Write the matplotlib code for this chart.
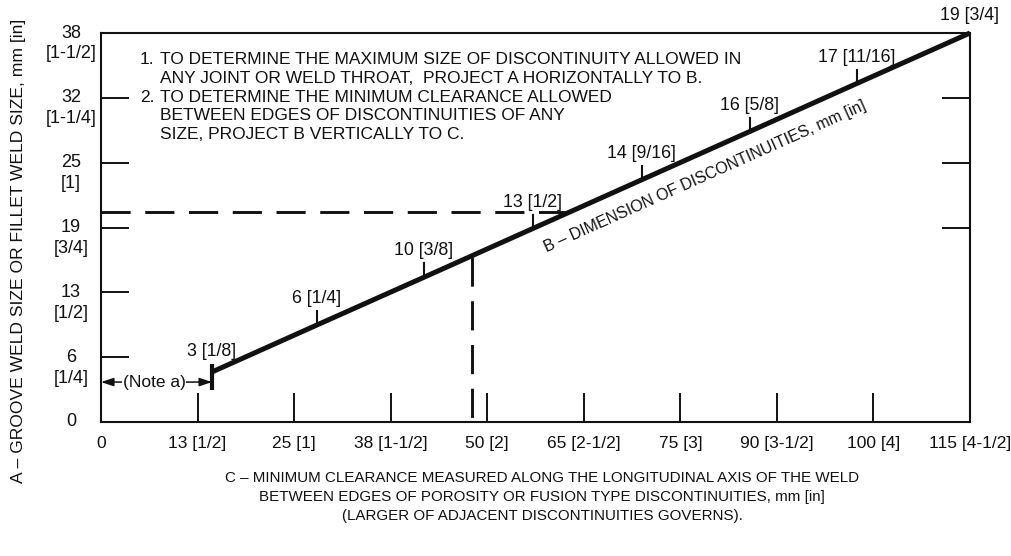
import matplotlib
matplotlib.use("Agg")
import matplotlib.pyplot as plt
import numpy as np

plt.rcParams["font.family"] = ["Liberation Sans", "DejaVu Sans"]
plt.rcParams["font.size"] = 12.5

INK = "#111111"

# C - clearance axis, positions in inches with mm [in] labels
c_pos = [0, 0.5, 1.0, 1.5, 2.0, 2.5, 3.0, 3.5, 4.0, 4.5]
c_labels = ["0", "13 [1/2]", "25 [1]", "38 [1-1/2]", "50 [2]", "65 [2-1/2]",
            "75 [3]", "90 [3-1/2]", "100 [4]", "115 [4-1/2]"]

# A - weld size axis
a_pos = [0, 0.25, 0.5, 0.75, 1.0, 1.25, 1.5]
a_mm = ["0", "6", "13", "19", "25", "32", "38"]
a_in = ["", "[1/4]", "[1/2]", "[3/4]", "[1]", "[1-1/4]", "[1-1/2]"]
a_right_ticks = [0.75, 1.0, 1.25]

# B - discontinuity dimension line, with its graduation marks
b_c = [0.575, 1.118, 1.672, 2.236, 2.800, 3.359, 3.913, 4.5]
b_a = [0.193, 0.374, 0.558, 0.746, 0.934, 1.120, 1.305, 1.5]
b_labels = ["3 [1/8]", "6 [1/4]", "10 [3/8]", "13 [1/2]", "14 [9/16]",
            "16 [5/8]", "17 [11/16]", "19 [3/4]"]

# worked projections
proj_a, proj_a_hit = 0.81, 2.43     # horizontal: A across to B
proj_c, proj_c_hit = 1.92, 0.635    # vertical: B down to C
note_a_level = 0.154

note_lines = [
    ("1.", "TO DETERMINE THE MAXIMUM SIZE OF DISCONTINUITY ALLOWED IN"),
    ("", "ANY JOINT OR WELD THROAT,  PROJECT A HORIZONTALLY TO B."),
    ("2.", "TO DETERMINE THE MINIMUM CLEARANCE ALLOWED"),
    ("", "BETWEEN EDGES OF DISCONTINUITIES OF ANY"),
    ("", "SIZE, PROJECT B VERTICALLY TO C."),
]

W, H = 1011, 556
fig = plt.figure(figsize=(W / 100, H / 100), dpi=100)
ax = fig.add_axes([101 / W, 1 - 422 / H, (970 - 101) / W, (422 - 33) / H])
ax.set_xlim(0, 4.5)
ax.set_ylim(0, 1.5)
for s in ax.spines.values():
    s.set_linewidth(1.5)
    s.set_color(INK)

ax.set_xticks(c_pos)
ax.set_xticklabels(c_labels)
ax.tick_params(axis="x", direction="in", length=21, width=1.4, pad=10,
               color=INK, labelcolor=INK, labelsize=12.5)
ax.set_yticks(a_pos)
ax.set_yticklabels([])
ax.tick_params(axis="y", direction="in", length=20, width=1.4, color=INK)

for p, mm, inch in zip(a_pos, a_mm, a_in):
    ax.annotate(mm, xy=(0, p), xycoords=("axes fraction", "data"),
                xytext=(-30, 0), textcoords="offset pixels",
                ha="center", va="center", color=INK, fontsize=13)
    if inch:
        ax.annotate(inch, xy=(0, p), xycoords=("axes fraction", "data"),
                    xytext=(-30, -21), textcoords="offset pixels",
                    ha="center", va="center", color=INK, fontsize=13)

axr = ax.twinx()
axr.set_ylim(0, 1.5)
axr.set_yticks(a_right_ticks)
axr.tick_params(axis="y", direction="in", length=20, width=1.4,
                color=INK, labelright=False)
for s in axr.spines.values():
    s.set_visible(False)

# projection lines
dash = (0, (10, 5))
ax.plot([0, proj_a_hit], [proj_a, proj_a], color=INK, lw=2.1, ls=dash)
ax.plot([proj_c, proj_c], [proj_c_hit, 0], color=INK, lw=2.1, ls=dash)

# B line
ax.plot(b_c, b_a, color=INK, lw=3.6, solid_capstyle="butt", clip_on=False, zorder=4)
tick_h = 0.054
ax.plot([b_c[0], b_c[0]], [b_a[0] - 0.07, b_a[0] + 0.031], color=INK, lw=3.0,
        solid_capstyle="butt", zorder=4)
for c, a in zip(b_c[1:-1], b_a[1:-1]):
    ax.plot([c, c], [a, a + tick_h], color=INK, lw=1.5, zorder=4)
for i, (c, a, lab) in enumerate(zip(b_c, b_a, b_labels)):
    if i == 0:
        top = a + 0.031
    elif i == len(b_c) - 1:
        top = a + 0.02
    else:
        top = a + tick_h
    ax.annotate(lab, xy=(c, top), xytext=(0, 4), textcoords="offset pixels",
                ha="center", va="bottom", color=INK, fontsize=12.8,
                annotation_clip=False)

# label running along B
p1 = ax.transData.transform((b_c[0], b_a[0]))
p2 = ax.transData.transform((b_c[-1], b_a[-1]))
ang = np.degrees(np.arctan2(p2[1] - p1[1], p2[0] - p1[0]))
mid_c = 3.08
mid_a = np.interp(mid_c, b_c, b_a)
off = 23
ax.annotate("B – DIMENSION OF DISCONTINUITIES, mm [in]", xy=(mid_c, mid_a),
            xytext=(off * np.sin(np.radians(ang)), -off * np.cos(np.radians(ang))),
            textcoords="offset pixels", rotation=ang, rotation_mode="anchor",
            ha="center", va="center", color=INK, fontsize=11.5)

# Note a dimension arrow
ax.annotate("", xy=(0, note_a_level), xytext=(b_c[0], note_a_level),
            arrowprops=dict(arrowstyle="<|-|>,head_length=0.6,head_width=0.2",
                            color=INK, lw=1.1, shrinkA=0, shrinkB=0))
ax.text(0.275, note_a_level, "(Note a)", ha="center", va="center", color=INK,
        bbox=dict(boxstyle="square,pad=0.05", fc="white", ec="none"))

# notes block, one line at a time
y0, step = 60, 18.5
for i, (num, line) in enumerate(note_lines):
    y = 1 - (y0 + i * step) / H
    if num:
        fig.text(140 / W, y, num, ha="left", va="center", color=INK)
    fig.text(160 / W, y, line, ha="left", va="center", color=INK)

fig.text(19 / W, 1 - 251 / H, "A – GROOVE WELD SIZE OR FILLET WELD SIZE, mm [in]",
         rotation=90, ha="center", va="center", color=INK, fontsize=12.6)
fig.text(542 / W, 1 - 471 / H,
         "C – MINIMUM CLEARANCE MEASURED ALONG THE LONGITUDINAL AXIS OF THE WELD\n"
         "BETWEEN EDGES OF POROSITY OR FUSION TYPE DISCONTINUITIES, mm [in]\n"
         "(LARGER OF ADJACENT DISCONTINUITIES GOVERNS).",
         ha="center", va="top", multialignment="center", linespacing=1.45,
         color=INK, fontsize=10.9)

fig.savefig("out.png", dpi=100)
